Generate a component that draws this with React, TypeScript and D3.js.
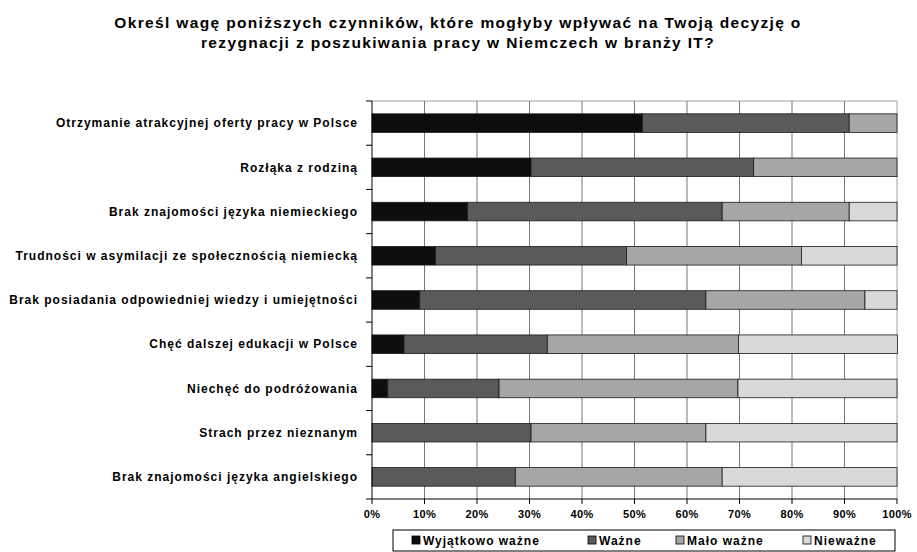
import React from "react";
import * as d3 from "d3";

const categories = [
  "Otrzymanie atrakcyjnej oferty pracy w Polsce",
  "Rozłąka z rodziną",
  "Brak znajomości języka niemieckiego",
  "Trudności w asymilacji ze społecznością niemiecką",
  "Brak posiadania odpowiedniej wiedzy i umiejętności",
  "Chęć dalszej edukacji w Polsce",
  "Niechęć do podróżowania",
  "Strach przez nieznanym",
  "Brak znajomości języka angielskiego",
];
const seriesNames = ["Wyjątkowo ważne", "Ważne", "Mało ważne", "Nieważne"];
const wyjatkowoWazne = [51.5, 30.3, 18.2, 12.1, 9.1, 6.1, 3.0, 0, 0];
const wazne = [39.4, 42.4, 48.5, 36.4, 54.5, 27.3, 21.2, 30.3, 27.3];
const maloWazne = [9.1, 27.3, 24.2, 33.3, 30.3, 36.4, 45.5, 33.3, 39.4];
const niewazne = [0, 0, 9.1, 18.2, 6.1, 30.3, 30.3, 36.4, 33.3];
const tickValues = [0, 10, 20, 30, 40, 50, 60, 70, 80, 90, 100];
const colors = ["#0d0d0d", "#5a5a5a", "#a6a6a6", "#d9d9d9"];
const titleLines = [
  "Określ wagę poniższych czynników, które mogłyby wpływać na Twoją decyzję o",
  "rezygnacji z poszukiwania pracy w Niemczech w branży IT?",
];

export default function App() {
  const W = 917, H = 552;
  const left = 372, right = 897, top = 101, bottom = 499;
  const font = "'Liberation Sans', Arial, sans-serif";
  const x = d3.scaleLinear().domain([0, 100]).range([left, right]);
  const y = d3.scaleBand<string>().domain(categories).range([top, bottom]).paddingInner(0.58).paddingOuter(0.29);
  const step = (bottom - top) / categories.length;
  const all = [wyjatkowoWazne, wazne, maloWazne, niewazne];
  const rows = categories.map((c, i) => {
    const obj: any = { cat: c };
    seriesNames.forEach((s, j) => (obj[s] = all[j][i]));
    return obj;
  });
  const stacked = d3.stack<any>().keys(seriesNames)(rows);

  const legendX = [412, 588, 676, 803];

  return (
    <svg width={W} height={H} style={{ position: "absolute", left: 0, top: 0, background: "#fff" }} fontFamily={font}>
      <rect x={0} y={0} width={W} height={H} fill="#fff" />
      {titleLines.map((t, i) => (
        <text key={i} x={458} y={28 + i * 20} textAnchor="middle" fontWeight="bold" fontSize={15.5} letterSpacing={1.35} fill="#000">
          {t}
        </text>
      ))}
      {/* plot frame */}
      <line x1={left} x2={right} y1={top} y2={top} stroke="#a0a0a0" />
      <line x1={right} x2={right} y1={top} y2={bottom} stroke="#a0a0a0" />
      {tickValues.slice(1, -1).map((v) => (
        <line key={v} x1={x(v)} x2={x(v)} y1={top} y2={bottom} stroke="#777" />
      ))}
      {stacked.map((layer, j) =>
        layer.map((d, i) =>
          d[1] - d[0] > 0 ? (
            <rect
              key={j + "-" + i}
              x={x(d[0])}
              y={y(categories[i])!}
              width={x(d[1]) - x(d[0])}
              height={y.bandwidth()}
              fill={colors[j]}
              stroke="#1a1a1a"
              strokeWidth={0.8}
            />
          ) : null
        )
      )}
      {/* y axis */}
      <line x1={left} x2={left} y1={top} y2={bottom} stroke="#000" />
      {d3.range(categories.length + 1).map((k) => (
        <line key={k} x1={left - 6} x2={left} y1={top + k * step} y2={top + k * step} stroke="#000" />
      ))}
      {categories.map((c) => (
        <text key={c} x={358} y={y(c)! + y.bandwidth() / 2} dy="0.35em" textAnchor="end" fontWeight="bold" fontSize={12} letterSpacing={1} fill="#000">
          {c}
        </text>
      ))}
      {/* x axis */}
      <line x1={left} x2={right} y1={bottom} y2={bottom} stroke="#000" />
      {tickValues.map((v) => (
        <g key={v}>
          <line x1={x(v)} x2={x(v)} y1={bottom} y2={bottom + 5} stroke="#000" />
          <text x={x(v)} y={518} textAnchor="middle" fontWeight="bold" fontSize={11} letterSpacing={0.4} fill="#000">
            {v + "%"}
          </text>
        </g>
      ))}
      {/* legend */}
      <rect x={393} y={530} width={502} height={21} fill="#fff" stroke="#000" />
      {seriesNames.map((s, j) => (
        <g key={s}>
          <rect x={legendX[j]} y={536} width={8} height={8} fill={colors[j]} stroke="#000" strokeWidth={0.8} />
          <text x={legendX[j] + 11} y={544.5} fontWeight="bold" fontSize={12} letterSpacing={1} fill="#000">
            {s}
          </text>
        </g>
      ))}
    </svg>
  );
}
